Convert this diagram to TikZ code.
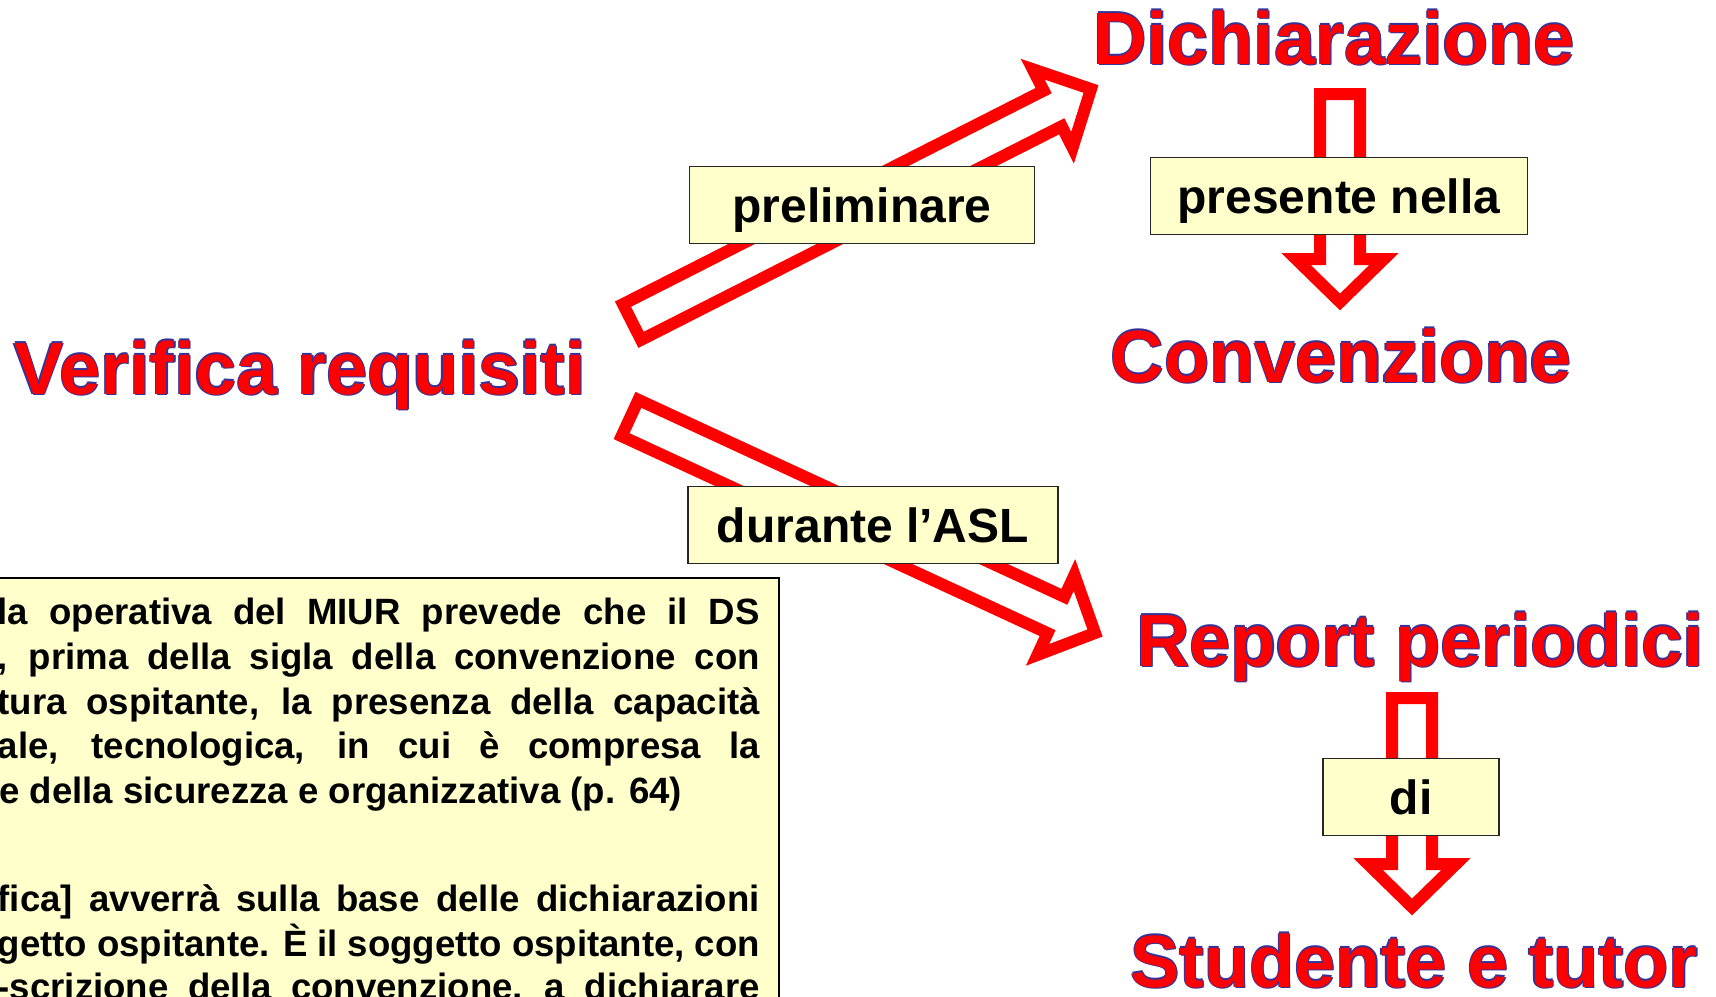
\documentclass[tikz,border=0pt]{standalone}
\usepackage{fontspec}
\setmainfont{Liberation Sans}
\usepackage{tikz}
\usetikzlibrary{calc,positioning}

\definecolor{waRed}{RGB}{255,0,0}
\definecolor{waBlue}{RGB}{51,51,153}
\definecolor{noteYellow}{RGB}{255,255,204}

% red word-art text with a thin blue rim
\newcommand{\wordart}[1]{%
  \rlap{\textcolor{waBlue}{\kern-1.2pt#1}}%
  \rlap{\textcolor{waBlue}{\kern1.2pt#1}}%
  \rlap{\textcolor{waBlue}{\raisebox{1.2pt}{#1}}}%
  \rlap{\textcolor{waBlue}{\kern0.8pt\raisebox{-1.8pt}{#1}}}%
  #1}

\begin{document}
\begin{tikzpicture}[x=1pt,y=-1pt]
\tikzstyle{bigred}=[font=\fontsize{74}{74}\selectfont\bfseries, text=waRed, anchor=base, inner sep=0]
\tikzstyle{tagbox}=[rectangle, draw=black!85, line width=1.6pt, fill=noteYellow, font=\fontsize{48}{48}\selectfont\bfseries, inner sep=0, text height=36pt, text depth=2pt, minimum height=77pt]
\tikzstyle{noteline}=[font=\fontsize{36.6}{44}\selectfont\bfseries, inner sep=0, anchor=base east]
\tikzstyle{hollow}=[draw=waRed, fill=white, line width=12pt, line join=miter,
  to path={($(\tikztostart)!20pt!90:(\tikztotarget)$)
    -- ($(\tikztotarget)!43pt!(\tikztostart)!20pt!90:(\tikztotarget)$)
    -- ($(\tikztotarget)!43pt!(\tikztostart)!44pt!90:(\tikztotarget)$)
    -- (\tikztotarget)
    -- ($(\tikztotarget)!43pt!(\tikztostart)!44pt!-90:(\tikztotarget)$)
    -- ($(\tikztotarget)!43pt!(\tikztostart)!20pt!-90:(\tikztotarget)$)
    -- ($(\tikztostart)!20pt!-90:(\tikztotarget)$) -- cycle}]
\useasboundingbox (0,0) rectangle (1716,996);
\clip (0,0) rectangle (1716,996);

\node[bigred] (Verifica) at (300,394) {\wordart{Verifica requisiti}};
\node[bigred] (Dichiarazione) at (1334,64) {\wordart{Dichiarazione}};
\node[bigred] (Convenzione) at (1341,382) {\wordart{Convenzione}};
\node[bigred] (Report) at (1420,666) {\wordart{Report periodici}};
\node[bigred] (Studente) at (1414,987) {\wordart{Studente e tutor}};

\coordinate (PrelTail) at (632,322);
\coordinate (PrelTip) at (1091,89);
\coordinate (AslTail) at (630,418);
\coordinate (AslTip) at (1095,633);
\coordinate (DichTail) at (1340,94);
\coordinate (DichTip) at (1340,302);
\coordinate (RepTail) at (1412,698);
\coordinate (RepTip) at (1412,907);
\path
  (PrelTail) edge [hollow] (PrelTip)
  (AslTail) edge [hollow] (AslTip)
  (DichTail) edge [hollow] (DichTip)
  (RepTail) edge [hollow] (RepTip);

\node[tagbox, minimum width=345pt] (Preliminare) at (862,205) {preliminare};
\node[tagbox, minimum width=377pt] (Presente) at (1339,196) {presente nella};
\node[tagbox, minimum width=370pt] (Durante) at (873,525) {durante l’ASL};
\node[tagbox, minimum width=176pt] (Di) at (1411,797) {di};

% guida operativa note, cut by the left edge
\draw[fill=noteYellow, draw=black, line width=1.5pt] (-20,578) rectangle (779,1030);
\node[noteline] (GuidaA) at (760,624) {\makebox[762pt][s]{la operativa del MIUR prevede che il DS}};
\node[noteline] (GuidaB) at (760,669) {\makebox[762pt][s]{, prima della sigla della convenzione con}};
\node[noteline] (GuidaC) at (760,714) {\makebox[762pt][s]{tura ospitante, la presenza della capacità}};
\node[noteline] (GuidaD) at (760,758) {\makebox[762pt][s]{ale, tecnologica, in cui è compresa la}};
\node[noteline, anchor=base west] (GuidaE) at (-1,803) {e della sicurezza e organizzativa (p. 64)};
\node[noteline] (GuidaF) at (760,911) {\makebox[762pt][s]{fica] avverrà sulla base delle dichiarazioni}};
\node[noteline] (GuidaG) at (760,956) {\makebox[762pt][s]{getto ospitante. È il soggetto ospitante, con}};
\node[noteline] (GuidaH) at (760,999) {\makebox[762pt][s]{-scrizione della convenzione, a dichiarare}};
\end{tikzpicture}
\end{document}
